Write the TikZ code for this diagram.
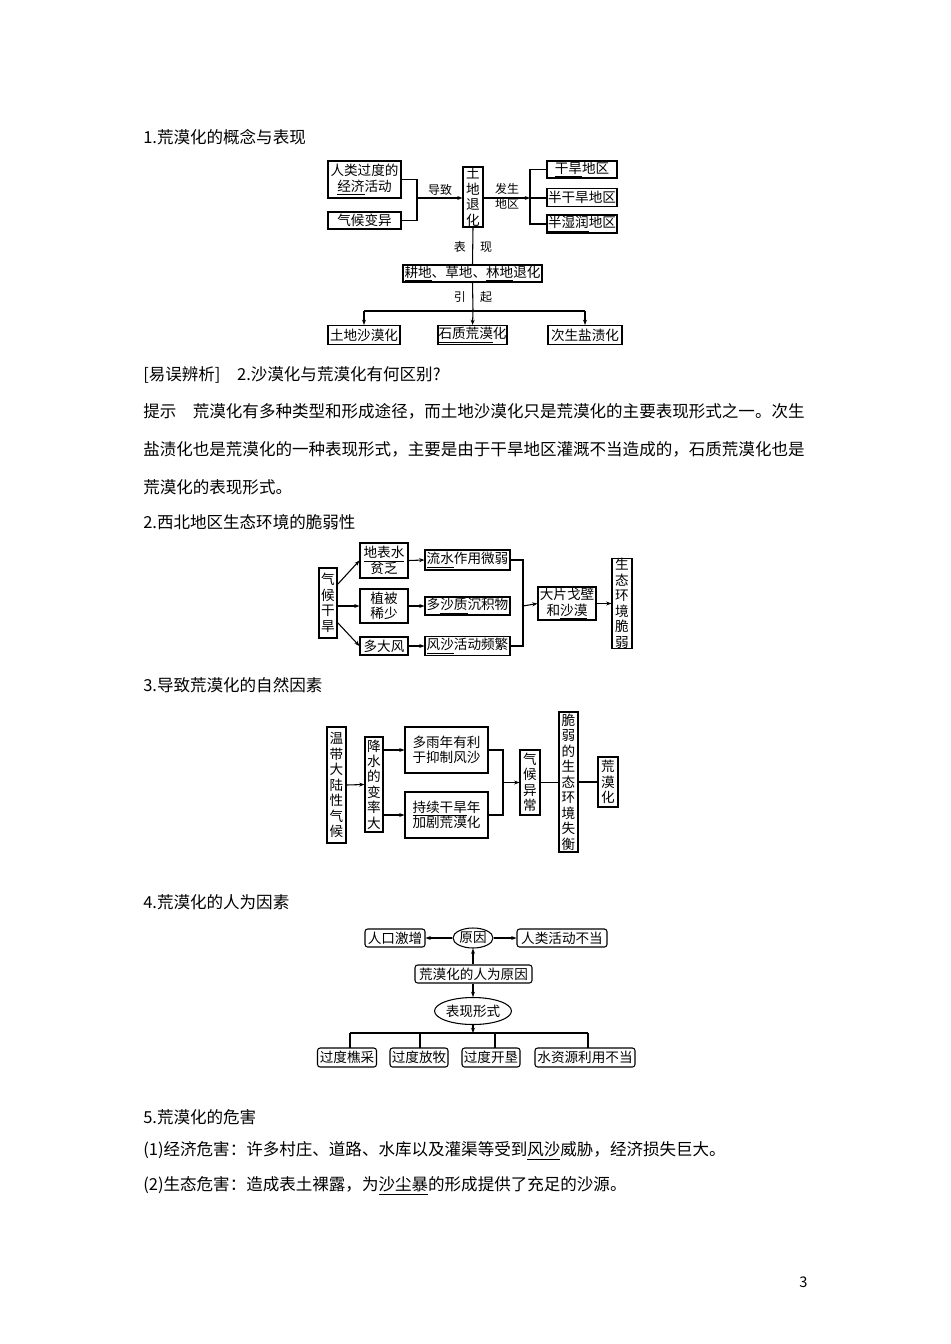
\documentclass[tikz,border=0pt]{standalone}
\usepackage{fontspec}
\setmainfont{Noto Sans CJK SC}
\usetikzlibrary{arrows.meta,shapes.geometric}
\newcommand{\ul}[1]{\underline{#1}}
\begin{document}
\begin{tikzpicture}[x=0.75pt,y=-0.75pt,
  bx/.style 2 args={draw,thick,inner sep=0pt,minimum width=#1*0.75pt,minimum height=#2*0.75pt,align=center,font=\fontsize{10.2}{11.6}\selectfont},
  rbx/.style 2 args={bx={#1}{#2},rounded corners=2pt},
  el/.style 2 args={draw,thick,ellipse,inner sep=0pt,minimum width=#1*0.75pt,minimum height=#2*0.75pt,font=\fontsize{10.2}{11.6}\selectfont},
  lbl/.style={font=\fontsize{9}{11}\selectfont,inner sep=0pt,align=center},
  body/.style={anchor=west,inner sep=0pt,font=\fontsize{12.4}{14}\selectfont},
  ar/.style={-{Stealth[length=4pt,width=3pt]}},
  ln/.style={thick}]
\useasboundingbox (0,0) rectangle (950,1344);
% texts
\node[body] (t1) at (143,137) {1.荒漠化的概念与表现};
\node[body] (t2) at (143,375) {[易误辨析]\quad 2.沙漠化与荒漠化有何区别?};
\node[body] (t3) at (143,411) {提示\quad 荒漠化有多种类型和形成途径，而土地沙漠化只是荒漠化的主要表现形式之一。次生};
\node[body] (t4) at (143,449) {盐渍化也是荒漠化的一种表现形式，主要是由于干旱地区灌溉不当造成的，石质荒漠化也是};
\node[body] (t5) at (143,487) {荒漠化的表现形式。};
\node[body] (t6) at (143,522) {2.西北地区生态环境的脆弱性};
\node[body] (t7) at (143,685) {3.导致荒漠化的自然因素};
\node[body] (t8) at (143,902) {4.荒漠化的人为因素};
\node[body] (t9) at (143,1117) {5.荒漠化的危害};
\node[body] (t10) at (143,1151) {(1)经济危害：许多村庄、道路、水库以及灌渠等受到\ul{风沙}威胁，经济损失巨大。};
\node[body] (t11) at (143,1186) {(2)生态危害：造成表土裸露，为\ul{沙尘暴}的形成提供了充足的沙源。};
\node[body,font=\fontsize{11}{13}\selectfont] (pg) at (799,1282) {3};

% ---- diagram 1
\node[bx={73}{37}] (a1) at (364.5,179.5) {人类过度的\\\ul{经济}活动};
\node[bx={73}{17}] (a2) at (364.5,220.5) {气候变异};
\node[bx={20}{60}] (a3) at (473,197) {土\\地\\退\\化};
\node[bx={70}{17}] (a4) at (582,169.5) {\ul{干旱}地区};
\node[bx={70}{18}] (a5) at (582,197.5) {半干旱地区};
\node[bx={70}{18}] (a6) at (582,224) {\ul{半湿润}地区};
\node[bx={139}{17}] (a7) at (472.5,273.5) {\ul{耕地}、草地、\ul{林地}退化};
\node[bx={72}{19}] (a8) at (364,335) {土地沙漠化};
\node[bx={69}{19}] (a9) at (472.5,335) {\ul{石质荒漠}化};
\node[bx={74}{19}] (a10) at (585,335) {次生盐渍化};
\coordinate (j1) at (417,198);
\coordinate (j2) at (530,198);
\coordinate (j3) at (473,311);
\draw[ln] (a1.east) -| (j1) |- (a2.east);
\draw[ln,ar] (j1) -- (a3.west|-j1);
\draw[ln,ar] (a3.east|-j2) -- (j2);
\draw[ln] (a4.west) -| (j2) |- (a6.west);
\draw[ln] (j2) -- (a5.west|-j2);
\draw[ln] (a3.south) -- (a7.north);
\draw[ln] (a7.south) -- (j3);
\draw[ln] (a8.north|-j3) -- (a10.north|-j3);
\draw[ln,ar] (a8.north|-j3) -- (a8.north);
\draw[ln,ar] (j3) -- (a9.north);
\draw[ln,ar] (a10.north|-j3) -- (a10.north);
\node[lbl] (l1) at (440,190) {导致};
\node[lbl] (l2) at (507,196) {发生\\地区};
\node[lbl] (l3) at (473,247) {表\hspace{1.2em}现};
\node[lbl] (l4) at (473,297) {引\hspace{1.2em}起};

% ---- diagram 2
\node[bx={18}{70}] (b1) at (328,603) {气\\候\\干\\旱};
\node[bx={48}{35}] (b2) at (384,560.5) {\ul{地表水}\\贫乏};
\node[bx={48}{34}] (b3) at (384,606) {植被\\稀少};
\node[bx={48}{18}] (b4) at (384,646) {多大风};
\node[bx={85}{20}] (b5) at (467.5,560) {\ul{流水}作用微弱};
\node[bx={85}{18}] (b6) at (467.5,606) {多\ul{沙质}沉积物};
\node[bx={85}{19}] (b7) at (467.5,646) {\ul{风沙}活动频繁};
\node[bx={58}{33}] (b8) at (567,603.5) {大片戈壁\\和\ul{沙漠}};
\node[bx={20}{87}] (b9) at (622,603.5) {生\\态\\环\\境\\脆\\弱};
\coordinate (k1) at (523,603.5);
\draw[ln,ar] (337,585) -- (b2.west);
\draw[ln,ar] (b1.east|-b3) -- (b3.west);
\draw[ln,ar] (337,622) -- (b4.west);
\draw[ln,ar] (b2.east) -- (b5.west);
\draw[ln,ar] (b3.east) -- (b6.west);
\draw[ln,ar] (b4.east) -- (b7.west);
\draw[ln] (b5.east) -| (k1) |- (b7.east);
\draw[ln,ar] (b6.east-|k1) -- (b8.west);
\draw[ln,ar] (b8.east) -- (b9.west);

% ---- diagram 3
\node[bx={19}{116}] (c1) at (336.5,785) {温\\带\\大\\陆\\性\\气\\候};
\node[bx={18}{95}] (c2) at (374,784.5) {降\\水\\的\\变\\率\\大};
\node[bx={83}{46}] (c3) at (446.5,750) {多雨年有利\\于抑制风沙};
\node[bx={83}{46}] (c4) at (446.5,815) {\ul{持续干旱}年\\加剧荒漠化};
\node[bx={20}{65}] (c5) at (530,782.5) {气\\候\\异\\常};
\node[bx={19}{140}] (c6) at (568.5,782) {脆\\弱\\的\\生\\态\\环\\境\\失\\衡};
\node[bx={20}{50}] (c7) at (608,782) {荒\\漠\\化};
\coordinate (m1) at (503,782.5);
\draw[ln,ar] (c1.east) -- (c2.west);
\draw[ln,ar] (c2.east|-c3) -- (c3.west);
\draw[ln,ar] (c2.east|-c4) -- (c4.west);
\draw[ln] (c3.east) -| (m1) |- (c4.east);
\draw[ln,ar] (m1) -- (c5.west);
\draw[ln] (c5.east) -- (c6.west|-c5);
\draw[ln] (c6.east|-c7) -- (c7.west);

% ---- diagram 4
\node[el={40}{20}] (d1) at (473,938) {原因};
\node[rbx={60}{18}] (d2) at (395,938) {人口激增};
\node[rbx={90}{18}] (d3) at (562,938) {人类活动不当};
\node[rbx={117}{18}] (d4) at (473.5,974) {荒漠化的人为原因};
\node[el={67}{27}] (d5) at (473,1011) {表现形式};
\node[rbx={59}{19}] (d6) at (347,1057.5) {过度樵采};
\node[rbx={58}{19}] (d7) at (419,1057.5) {过度放牧};
\node[rbx={58}{19}] (d8) at (491,1057.5) {过度开垦};
\node[rbx={100}{19}] (d9) at (585,1057.5) {水资源利用不当};
\coordinate (n1) at (473,1033);
\draw[ln,ar] (d1.west) -- (d2.east);
\draw[ln,ar] (d1.east) -- (d3.west);
\draw[ln,ar] (d4.north-|d1) -- (d1.south);
\draw[ln,ar] (d4.south-|d5) -- (d5.north);
\draw[ln,ar] (d5.south) -- (n1);
\draw[ln] (350,1033) -- (588,1033);
\draw[ln] (350,1033) -- (350,1048);
\draw[ln] (420,1033) -- (420,1048);
\draw[ln] (495,1033) -- (495,1048);
\draw[ln] (588,1033) -- (588,1048);
\end{tikzpicture}
\end{document}
